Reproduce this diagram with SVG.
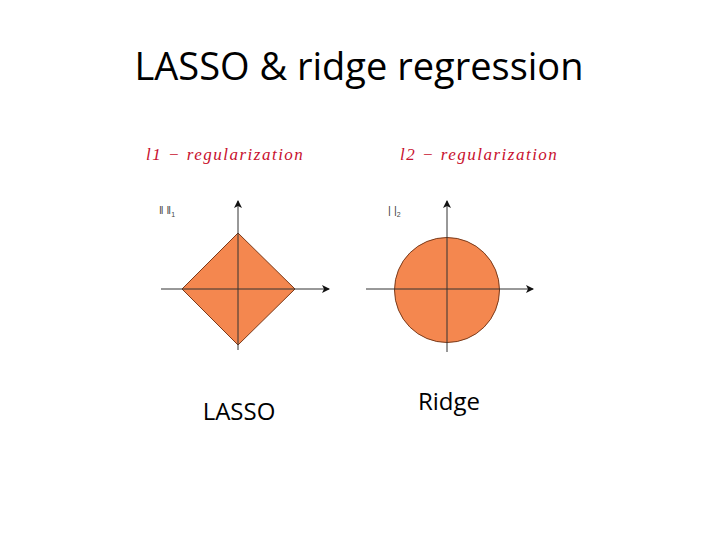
<svg xmlns="http://www.w3.org/2000/svg" width="720" height="540" viewBox="0 0 720 540">
<defs><marker id="a" markerWidth="8" markerHeight="8" refX="7" refY="4" orient="auto" markerUnits="userSpaceOnUse"><path d="M0,0 L8,4 L0,8 L2,4 Z" fill="#111"/></marker></defs>
<style>.ax{stroke:#333;stroke-width:1;fill:none}.sh{fill:#f4874f;stroke:#7a3a1a;stroke-width:1}.t{font-family:"Liberation Serif",serif;font-style:italic;fill:#c8102e;font-size:17px;letter-spacing:1.5px}.n{font-family:"Liberation Sans",sans-serif;font-size:11px;fill:#444}.c{font-family:"Open Sans","Liberation Sans",sans-serif;fill:#000}</style>
<rect width="720" height="540" fill="#fff"/>
<text class="c" x="359" y="80" font-size="38" text-anchor="middle">LASSO &amp; ridge regression</text>
<g id="lasso">
<text class="t" x="146" y="160">l1 − regularization</text>
<text class="n" x="159" y="214">‖ ‖<tspan font-size="7" dy="3">1</tspan></text>
<polygon class="sh" points="238,233 295,289 238,345 182,289"/>
<text class="c" x="239" y="420" font-size="24" text-anchor="middle">LASSO</text>
</g>
<g id="ridge">
<text class="t" x="400" y="160">l2 − regularization</text>
<text class="n" x="388" y="214">| |<tspan font-size="7" dy="3">2</tspan></text>
<circle class="sh" cx="447" cy="290" r="52.5"/>
<text class="c" x="449" y="410" font-size="24" text-anchor="middle">Ridge</text>
</g>
<g id="connectors">
<line class="ax" x1="238" y1="350" x2="238" y2="201" marker-end="url(#a)"/>
<line class="ax" x1="161" y1="289" x2="329" y2="289" marker-end="url(#a)"/>
<line class="ax" x1="447" y1="352" x2="447" y2="201" marker-end="url(#a)"/>
<line class="ax" x1="366" y1="289" x2="533" y2="289" marker-end="url(#a)"/>
</g>
</svg>
